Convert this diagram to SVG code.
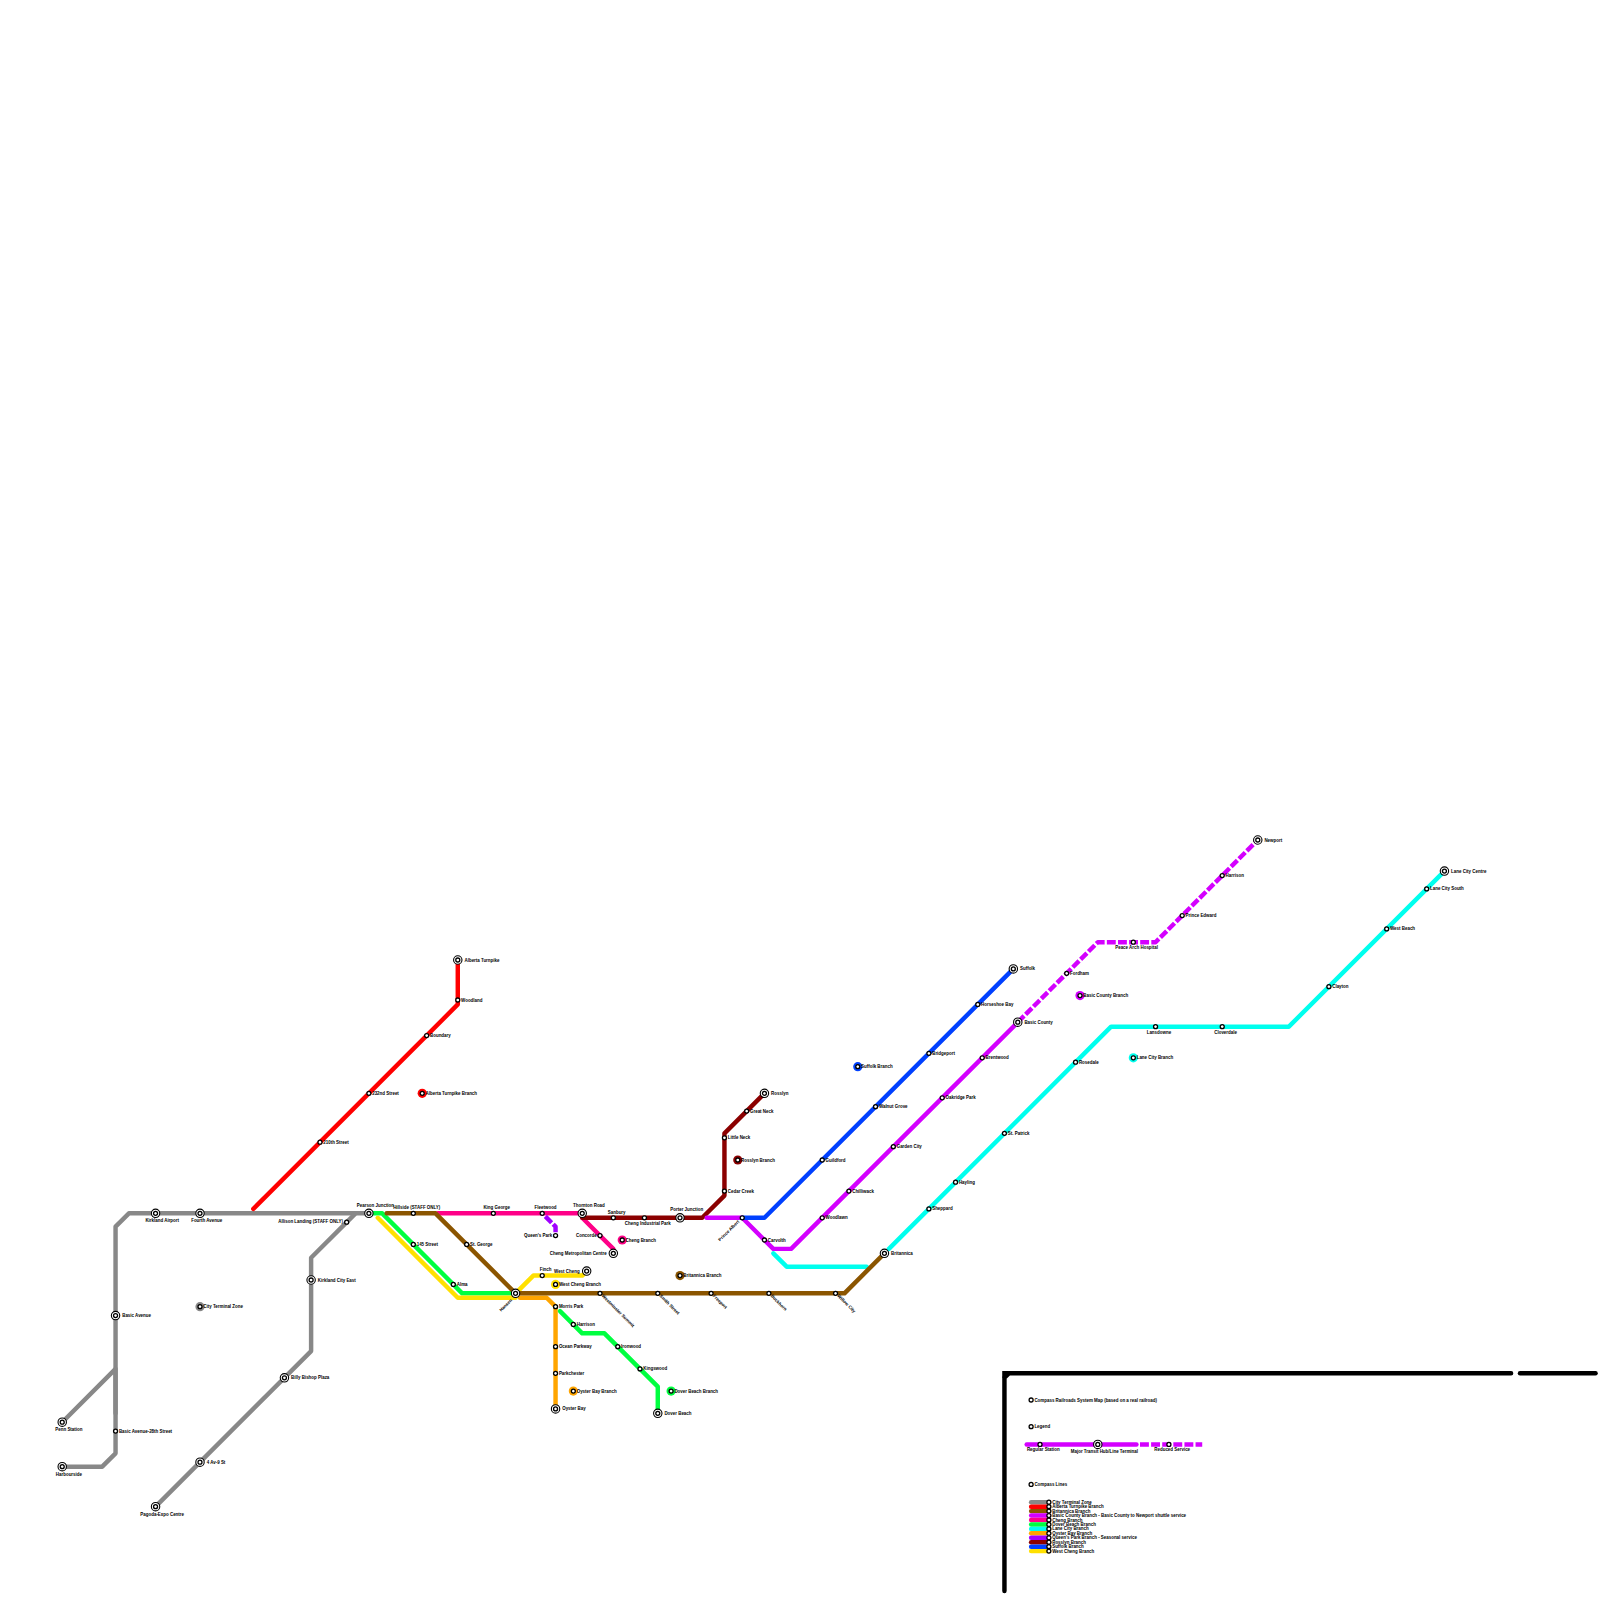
<svg xmlns="http://www.w3.org/2000/svg" width="1600" height="1600" viewBox="0 0 1600 1600">
<style>
text{font-family:"Liberation Sans",Arial,sans-serif;font-size:4.44px;font-weight:700;fill:#000}
.m{text-anchor:middle}.e{text-anchor:end}
.l{fill:none;stroke-width:1;stroke-linecap:round;stroke-linejoin:round}
.d{stroke-dasharray:2 .5;stroke-linecap:butt}
.grey{stroke:#888888}.red{stroke:#ff0000}.brown{stroke:#8b5500}.mag{stroke:#d400ff}.pink{stroke:#ff0088}.green{stroke:#00ff40}.cyan{stroke:#00ffee}.orange{stroke:#ffa500}.purple{stroke:#a000ff}.dred{stroke:#8b0000}.blue{stroke:#0040ff}.yellow{stroke:#ffe000}.black{stroke:#000}
.o{fill:#fff;stroke:#000;stroke-width:1.3}
.r{fill:#fff;stroke:#000;stroke-width:1.1}
</style>
<defs>
<g id="st"><circle r="2" class="o"/></g>
<g id="hub"><circle r="4.2" class="r"/><circle r="2" class="o"/></g>
</defs>
<g id="connectors" transform="scale(4.44444)">
<path class="l black" d="M226 358V310L227 309H340"/>
<path class="l black" d="M226 310V309H227" stroke-linejoin="miter" style="stroke-linejoin:miter;stroke-linecap:butt"/>
<path class="l black" d="M342 309H359"/>
<path class="l grey" d="M80 273H29L26 276V327L23 330H14"/>
<path class="l grey" d="M14 320L26 308V318"/>
<path class="l grey" d="M35 339L70 304V283L80 273H83"/>
<path class="l red" d="M57 272L103 226V216"/>
<path class="l pink" d="M98.5 273H131V274L135 278L138 281V282"/>
<path class="l green" d="M83 273H86L104 291H116"/>
<path class="l yellow" d="M85 274L103 292H116"/>
<path class="l yellow" d="M116 291L120 287H131L132 286"/>
<path class="l orange" d="M117 292H123L125 294V317"/>
<path class="l cyan" d="M174 282L177 285H195"/>
<path class="l cyan" d="M200 281L250 231H290L325 196"/>
<path class="l brown" d="M87 273H98L116 291H190L199 282"/>
<path class="l d purple" d="M122.7 273.7L125 276V278"/>
<path class="l dred" d="M131 274H158L163 269V255L172 246"/>
<path class="l mag" d="M159 274H167L174 281H178L229 230"/>
<path class="l d mag" d="M229 230L247 212H260L283 189"/>
<path class="l blue" d="M167 274H172L228 218"/>
<path class="l green" d="M126 295L131 300H136L148 312V318"/>
</g>
<g id="legend-lines" transform="scale(4.44444)">
<path class="l mag" d="M231 325H255.7"/>
<path class="l d mag" d="M256.5 325H270.5"/>
<path class="l grey" d="M232 338H236"/>
<path class="l red" d="M232 339H236"/>
<path class="l brown" d="M232 340H236"/>
<path class="l mag" d="M232 341H236"/>
<path class="l pink" d="M232 342H236"/>
<path class="l green" d="M232 343H236"/>
<path class="l cyan" d="M232 344H236"/>
<path class="l orange" d="M232 345H236"/>
<path class="l purple" d="M232 346H236"/>
<path class="l dred" d="M232 347H236"/>
<path class="l blue" d="M232 348H236"/>
<path class="l yellow" d="M232 349H236"/>
</g>
<g id="nodes">
<g id="kirkland-airport"><use href="#hub" x="155.56" y="1213.33"/><text class="m" x="162.2" y="1222.4">Kirkland Airport</text></g>
<g id="fourth-avenue"><use href="#hub" x="200" y="1213.33"/><text class="m" x="206.7" y="1222.4">Fourth Avenue</text></g>
<g id="basic-avenue"><use href="#hub" x="115.56" y="1315.56"/><text x="122.2" y="1317.1">Basic Avenue</text></g>
<g id="penn-station"><use href="#hub" x="62.22" y="1422.22"/><text class="m" x="68.9" y="1431">Penn Station</text></g>
<g id="harbourside"><use href="#hub" x="62.22" y="1466.67"/><text class="m" x="68.9" y="1475.5">Harbourside</text></g>
<g id="pagoda-expo"><use href="#hub" x="155.56" y="1506.67"/><text class="m" x="162.2" y="1515.5">Pagoda-Expo Centre</text></g>
<g id="av4-st9"><use href="#hub" x="200" y="1462.22"/><text x="206.7" y="1463.8">4 Av-9 St</text></g>
<g id="billy-bishop"><use href="#hub" x="284.44" y="1377.78"/><text x="291.1" y="1379.3">Billy Bishop Plaza</text></g>
<g id="kirkland-city-east"><use href="#hub" x="311.11" y="1280"/><text x="317.8" y="1281.5">Kirkland City East</text></g>
<g id="pearson-junction"><use href="#hub" x="368.89" y="1213.33"/><text class="m" x="375.4" y="1206.9">Pearson Junction</text></g>
<g id="alberta-turnpike"><use href="#hub" x="457.78" y="960"/><text x="464.5" y="961.5">Alberta Turnpike</text></g>
<g id="hansen"><use href="#hub" x="515.56" y="1293.33"/><text class="e" transform="translate(512.5 1300.5) rotate(-45)">Hansen</text></g>
<g id="thornton-road"><use href="#hub" x="582.22" y="1213.33"/><text class="m" x="588.9" y="1206.6">Thornton Road</text></g>
<g id="cheng-metro"><use href="#hub" x="613.33" y="1253.33"/><text class="e" x="606.7" y="1254.8">Cheng Metropolitan Centre</text></g>
<g id="west-cheng"><use href="#hub" x="586.67" y="1271.11"/><text class="e" x="579.6" y="1272.6">West Cheng</text></g>
<g id="oyster-bay"><use href="#hub" x="555.56" y="1408.89"/><text x="562.2" y="1410.4">Oyster Bay</text></g>
<g id="dover-beach"><use href="#hub" x="657.78" y="1413.33"/><text x="664.4" y="1414.9">Dover Beach</text></g>
<g id="porter-junction"><use href="#hub" x="680" y="1217.78"/><text class="m" x="686.7" y="1211.3">Porter Junction</text></g>
<g id="rosslyn"><use href="#hub" x="764.44" y="1093.33"/><text x="771.1" y="1094.9">Rosslyn</text></g>
<g id="britannica"><use href="#hub" x="884.44" y="1253.33"/><text x="891.1" y="1254.9">Britannica</text></g>
<g id="suffolk"><use href="#hub" x="1013.33" y="968.89"/><text x="1020" y="970.4">Suffolk</text></g>
<g id="basic-county"><use href="#hub" x="1017.78" y="1022.22"/><text x="1024.4" y="1023.8">Basic County</text></g>
<g id="newport"><use href="#hub" x="1257.78" y="840"/><text x="1264.4" y="841.5">Newport</text></g>
<g id="lane-city-centre"><use href="#hub" x="1444.44" y="871.11"/><text x="1451.1" y="872.6">Lane City Centre</text></g>

<g id="basic-avenue-28"><use href="#st" x="115.56" y="1431.11"/><text x="118.9" y="1432.6">Basic Avenue-28th Street</text></g>
<g id="allison"><use href="#st" x="346.67" y="1222.22"/><text class="e" x="342.9" y="1223.3">Allison Landing (STAFF ONLY)</text></g>
<g id="s210"><use href="#st" x="320" y="1142.22"/><text x="323.3" y="1143.7">210th Street</text></g>
<g id="s232"><use href="#st" x="368.89" y="1093.33"/><text x="372.2" y="1094.9">232nd Street</text></g>
<g id="boundary"><use href="#st" x="426.67" y="1035.56"/><text x="430" y="1037">Boundary</text></g>
<g id="woodland"><use href="#st" x="457.78" y="1000"/><text x="461.1" y="1001.5">Woodland</text></g>
<g id="hillside"><use href="#st" x="413.33" y="1213.33"/><text class="m" x="416.7" y="1208.9">Hillside (STAFF ONLY)</text></g>
<g id="s145"><use href="#st" x="413.33" y="1244.44"/><text x="416.7" y="1246">145 Street</text></g>
<g id="alma"><use href="#st" x="453.33" y="1284.44"/><text x="456.7" y="1286">Alma</text></g>
<g id="st-george"><use href="#st" x="466.67" y="1244.44"/><text x="470" y="1246">St. George</text></g>
<g id="king-george"><use href="#st" x="493.33" y="1213.33"/><text class="m" x="496.7" y="1208.9">King George</text></g>
<g id="fleetwood"><use href="#st" x="542.22" y="1213.33"/><text class="m" x="545.6" y="1208.9">Fleetwood</text></g>
<g id="queens-park"><use href="#st" x="555.56" y="1235.56"/><text class="e" x="552.2" y="1237">Queen's Park</text></g>
<g id="concorde"><use href="#st" x="600" y="1235.56"/><text class="e" x="596.7" y="1237">Concorde</text></g>
<g id="sanbury"><use href="#st" x="613.33" y="1217.78"/><text class="m" x="616.7" y="1213.6">Sanbury</text></g>
<g id="cheng-industrial"><use href="#st" x="644.44" y="1217.78"/><text class="m" x="647.8" y="1224.6">Cheng Industrial Park</text></g>
<g id="finch"><use href="#st" x="542.22" y="1275.56"/><text class="m" x="545.6" y="1271.3">Finch</text></g>
<g id="westminster"><use href="#st" x="600" y="1293.33"/><text transform="translate(601.5 1296.3) rotate(45)">Westminster Summit</text></g>
<g id="smith"><use href="#st" x="657.78" y="1293.33"/><text transform="translate(659.3 1296.3) rotate(45)">Smith Street</text></g>
<g id="freeport"><use href="#st" x="711.11" y="1293.33"/><text transform="translate(712.6 1296.3) rotate(45)">Freeport</text></g>
<g id="buckhorn"><use href="#st" x="768.89" y="1293.33"/><text transform="translate(770.4 1296.3) rotate(45)">Buckhorn</text></g>
<g id="willow"><use href="#st" x="835.56" y="1293.33"/><text transform="translate(837.1 1296.3) rotate(45)">Willow City</text></g>
<g id="morris"><use href="#st" x="555.56" y="1306.67"/><text x="558.9" y="1308.2">Morris Park</text></g>
<g id="harrison-d"><use href="#st" x="573.33" y="1324.44"/><text x="576.7" y="1326">Harrison</text></g>
<g id="ocean"><use href="#st" x="555.56" y="1346.67"/><text x="558.9" y="1348.2">Ocean Parkway</text></g>
<g id="parkchester"><use href="#st" x="555.56" y="1373.33"/><text x="558.9" y="1374.9">Parkchester</text></g>
<g id="ironwood"><use href="#st" x="617.78" y="1346.67"/><text x="621.1" y="1348.2">Ironwood</text></g>
<g id="kingswood"><use href="#st" x="640" y="1368.89"/><text x="643.3" y="1370.4">Kingswood</text></g>
<g id="cedar-creek"><use href="#st" x="724.44" y="1191.11"/><text x="727.8" y="1192.6">Cedar Creek</text></g>
<g id="little-neck"><use href="#st" x="724.44" y="1137.78"/><text x="727.8" y="1139.3">Little Neck</text></g>
<g id="great-neck"><use href="#st" x="746.67" y="1111.11"/><text x="750" y="1112.6">Great Neck</text></g>
<g id="prince-albert"><use href="#st" x="742.22" y="1217.78"/><text class="e" transform="translate(739.5 1222) rotate(-45)">Prince Albert</text></g>
<g id="carvolth"><use href="#st" x="764.44" y="1240"/><text x="767.8" y="1241.5">Carvolth</text></g>
<g id="woodlawn"><use href="#st" x="822.22" y="1217.78"/><text x="825.6" y="1219.3">Woodlawn</text></g>
<g id="chilliwack"><use href="#st" x="848.89" y="1191.11"/><text x="852.2" y="1192.6">Chilliwack</text></g>
<g id="garden-city"><use href="#st" x="893.33" y="1146.67"/><text x="896.7" y="1148.2">Garden City</text></g>
<g id="oakridge"><use href="#st" x="942.22" y="1097.78"/><text x="945.6" y="1099.3">Oakridge Park</text></g>
<g id="brentwood"><use href="#st" x="982.22" y="1057.78"/><text x="985.6" y="1059.3">Brentwood</text></g>
<g id="guildford"><use href="#st" x="822.22" y="1160"/><text x="825.6" y="1161.5">Guildford</text></g>
<g id="walnut"><use href="#st" x="875.56" y="1106.67"/><text x="878.9" y="1108.2">Walnut Grove</text></g>
<g id="bridgeport"><use href="#st" x="928.89" y="1053.33"/><text x="932.2" y="1054.9">Bridgeport</text></g>
<g id="horseshoe"><use href="#st" x="977.78" y="1004.44"/><text x="981.1" y="1006">Horseshoe Bay</text></g>
<g id="fordham"><use href="#st" x="1066.67" y="973.33"/><text x="1070" y="974.9">Fordham</text></g>
<g id="peace-arch"><use href="#st" x="1133.33" y="942.22"/><text class="m" x="1136.6" y="949">Peace Arch Hospital</text></g>
<g id="prince-edward"><use href="#st" x="1182.22" y="915.56"/><text x="1185.6" y="917">Prince Edward</text></g>
<g id="harrison-b"><use href="#st" x="1222.22" y="875.56"/><text x="1225.6" y="877">Harrison</text></g>
<g id="sheppard"><use href="#st" x="928.89" y="1208.89"/><text x="932.2" y="1210.4">Sheppard</text></g>
<g id="hayling"><use href="#st" x="955.56" y="1182.22"/><text x="958.9" y="1183.7">Hayling</text></g>
<g id="st-patrick"><use href="#st" x="1004.44" y="1133.33"/><text x="1007.8" y="1134.9">St. Patrick</text></g>
<g id="rosedale"><use href="#st" x="1075.56" y="1062.22"/><text x="1078.9" y="1063.8">Rosedale</text></g>
<g id="lansdowne"><use href="#st" x="1155.56" y="1026.67"/><text class="m" x="1158.9" y="1033.6">Lansdowne</text></g>
<g id="cloverdale"><use href="#st" x="1222.22" y="1026.67"/><text class="m" x="1225.6" y="1033.6">Cloverdale</text></g>
<g id="clayton"><use href="#st" x="1328.89" y="986.67"/><text x="1332.2" y="988.2">Clayton</text></g>
<g id="west-beach"><use href="#st" x="1386.67" y="928.89"/><text x="1390" y="930.4">West Beach</text></g>
<g id="lane-city-south"><use href="#st" x="1426.67" y="888.89"/><text x="1430" y="890.4">Lane City South</text></g>

<g id="b-city"><circle cx="200" cy="1306.67" r="4.6" fill="#888888"/><use href="#st" x="200" y="1306.67"/><text x="203.3" y="1308.2">City Terminal Zone</text></g>
<g id="b-alberta"><circle cx="422.22" cy="1093.33" r="4.6" fill="#ff0000"/><use href="#st" x="422.22" y="1093.33"/><text x="425.6" y="1094.9">Alberta Turnpike Branch</text></g>
<g id="b-cheng"><circle cx="622.22" cy="1240" r="4.6" fill="#ff0088"/><use href="#st" x="622.22" y="1240"/><text x="625.6" y="1241.5">Cheng Branch</text></g>
<g id="b-west-cheng"><circle cx="555.56" cy="1284.44" r="4.6" fill="#ffe000"/><use href="#st" x="555.56" y="1284.44"/><text x="558.9" y="1286">West Cheng Branch</text></g>
<g id="b-britannica"><circle cx="680" cy="1275.56" r="4.6" fill="#8b5500"/><use href="#st" x="680" y="1275.56"/><text x="683.3" y="1277">Britannica Branch</text></g>
<g id="b-oyster"><circle cx="573.33" cy="1391.11" r="4.6" fill="#ffa500"/><use href="#st" x="573.33" y="1391.11"/><text x="576.7" y="1392.6">Oyster Bay Branch</text></g>
<g id="b-dover"><circle cx="671.11" cy="1391.11" r="4.6" fill="#00ff40"/><use href="#st" x="671.11" y="1391.11"/><text x="674.4" y="1392.6">Dover Beach Branch</text></g>
<g id="b-rosslyn"><circle cx="737.78" cy="1160" r="4.6" fill="#8b0000"/><use href="#st" x="737.78" y="1160"/><text x="741.1" y="1161.5">Rosslyn Branch</text></g>
<g id="b-suffolk"><circle cx="857.78" cy="1066.67" r="4.6" fill="#0040ff"/><use href="#st" x="857.78" y="1066.67"/><text x="861.1" y="1068.2">Suffolk Branch</text></g>
<g id="b-basic"><circle cx="1080" cy="995.56" r="4.6" fill="#d400ff"/><use href="#st" x="1080" y="995.56"/><text x="1083.3" y="997">Basic County Branch</text></g>
<g id="b-lane"><circle cx="1133.33" cy="1057.78" r="4.6" fill="#00ffee"/><use href="#st" x="1133.33" y="1057.78"/><text x="1136.7" y="1059.3">Lane City Branch</text></g>
</g>
<g id="legend">
<g id="l-title"><use href="#st" x="1031.11" y="1400"/><text x="1034.4" y="1401.5">Compass Railroads System Map (based on a real railroad)</text></g>
<g id="l-legend"><use href="#st" x="1031.11" y="1426.67"/><text x="1034.4" y="1428.2">Legend</text></g>
<g id="l-regular"><use href="#st" x="1040" y="1444.44"/><text class="m" x="1043.3" y="1451">Regular Station</text></g>
<g id="l-major"><use href="#hub" x="1097.78" y="1444.44"/><text class="m" x="1104.4" y="1453.3">Major Transit Hub/Line Terminal</text></g>
<g id="l-reduced"><use href="#st" x="1168.89" y="1444.44"/><text class="m" x="1172.2" y="1451">Reduced Service</text></g>
<g id="l-lines"><use href="#st" x="1031.11" y="1484.44"/><text x="1034.4" y="1486">Compass Lines</text></g>
<g id="l1"><use href="#st" x="1048.89" y="1502.22"/><text x="1052.2" y="1503.7">City Terminal Zone</text></g>
<g id="l2"><use href="#st" x="1048.89" y="1506.67"/><text x="1052.2" y="1508.2">Alberta Turnpike Branch</text></g>
<g id="l3"><use href="#st" x="1048.89" y="1511.11"/><text x="1052.2" y="1512.6">Britannica Branch</text></g>
<g id="l4"><use href="#st" x="1048.89" y="1515.56"/><text x="1052.2" y="1517.1">Basic County Branch - Basic County to Newport shuttle service</text></g>
<g id="l5"><use href="#st" x="1048.89" y="1520"/><text x="1052.2" y="1521.5">Cheng Branch</text></g>
<g id="l6"><use href="#st" x="1048.89" y="1524.44"/><text x="1052.2" y="1526">Dover Beach Branch</text></g>
<g id="l7"><use href="#st" x="1048.89" y="1528.89"/><text x="1052.2" y="1530.4">Lane City Branch</text></g>
<g id="l8"><use href="#st" x="1048.89" y="1533.33"/><text x="1052.2" y="1534.9">Oyster Bay Branch</text></g>
<g id="l9"><use href="#st" x="1048.89" y="1537.78"/><text x="1052.2" y="1539.3">Queen's Park Branch - Seasonal service</text></g>
<g id="l10"><use href="#st" x="1048.89" y="1542.22"/><text x="1052.2" y="1543.7">Rosslyn Branch</text></g>
<g id="l11"><use href="#st" x="1048.89" y="1546.67"/><text x="1052.2" y="1548.2">Suffolk Branch</text></g>
<g id="l12"><use href="#st" x="1048.89" y="1551.11"/><text x="1052.2" y="1552.6">West Cheng Branch</text></g>
</g>
</svg>
